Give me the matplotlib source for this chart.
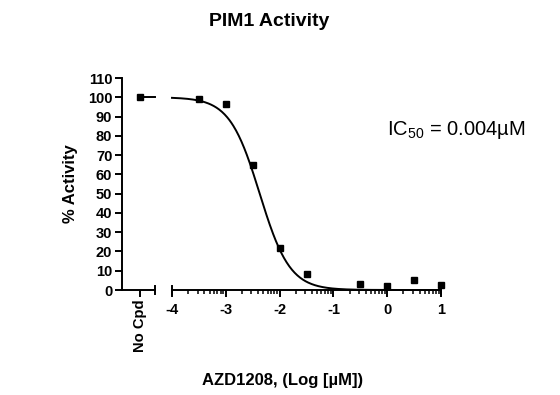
import numpy as np
import matplotlib
matplotlib.use("Agg")
import matplotlib.pyplot as plt

plt.rcParams['font.family'] = ['Liberation Sans', 'DejaVu Sans']
plt.rcParams['mathtext.fontset'] = 'custom'
plt.rcParams['mathtext.rm'] = 'Liberation Sans'
plt.rcParams['mathtext.it'] = 'Liberation Sans:italic'
plt.rcParams['mathtext.bf'] = 'Liberation Sans:bold'

# Data
title = "PIM1 Activity"
xlabel = "AZD1208, (Log [µM])"
ylabel = "% Activity"
nocpd_label = "No Cpd"
nocpd_value = 100.0
log_conc = [-3.5, -3.0, -2.5, -2.0, -1.5, -0.5, 0.0, 0.5, 1.0]
activity = [99.0, 96.5, 65.0, 22.0, 8.3, 3.0, 2.0, 5.0, 2.5]
# Fitted 4PL parameters
fit_top = 100.0
fit_bottom = 0.0
fit_logic50 = -2.37
fit_hill = 1.55
ic50_text = r"IC$_{\mathregular{50}}$ = 0.004µM"
yticks = list(range(0, 111, 10))
xticks = [-4, -3, -2, -1, 0, 1]

fig = plt.figure(figsize=(5.6, 3.95), dpi=100)
W, H = 560, 395
ax1 = fig.add_axes([122 / W, (H - 290) / H, 33 / W, 212 / H])
ax2 = fig.add_axes([172 / W, (H - 290) / H, 269 / W, 212 / H])

lw = 1.4
for ax in (ax1, ax2):
    ax.set_ylim(0, 110)
    for s in ('top', 'right'):
        ax.spines[s].set_visible(False)
    ax.spines['bottom'].set_linewidth(lw)
    ax.spines['left'].set_linewidth(lw)
    ax.patch.set_alpha(0)

# Segment 1: No Cpd
ax1.set_xlim(-1.2, 1.0)
ax1.plot([0], [nocpd_value], 's', color='black', markersize=4.5, clip_on=False)
ax1.plot([0, 1.0], [fit_top, fit_top], color='black', lw=lw, clip_on=False)
ax1.set_xticks([0])
ax1.set_xticklabels([nocpd_label], rotation=90, fontsize=10.6, fontweight='bold')
ax1.set_yticks(yticks)
ax1.set_yticklabels([str(v) for v in yticks], fontsize=10.5, fontweight='bold')
ax1.tick_params(axis='both', length=5, width=lw, pad=2)
ax1.plot([1.0, 1.0], [-2.2, 2.2], color='black', lw=lw, clip_on=False)
ax1.set_ylabel(ylabel, fontsize=12, fontweight='bold', labelpad=7)

# Segment 2: main
ax2.spines['left'].set_visible(False)
ax2.set_xlim(-4, 1)
ax2.set_yticks([])
ax2.set_xticks(xticks)
ax2.set_xticklabels([str(t) for t in xticks], fontsize=10.5, fontweight='bold')
minor = [n + np.log10(k) for n in range(-4, 1) for k in range(2, 10)]
ax2.set_xticks(minor, minor=True)
ax2.tick_params(axis='x', which='major', length=5, width=lw, pad=4)
ax2.tick_params(axis='x', which='minor', length=3, width=1.1)
for xe in (-4, 1):
    ax2.plot([xe, xe], [-2.2, 2.2], color='black', lw=lw, clip_on=False)

xs = np.linspace(-4, 1, 400)
ys = fit_bottom + (fit_top - fit_bottom) / (1 + 10 ** ((xs - fit_logic50) * fit_hill))
ax2.plot(xs, ys, color='black', lw=lw, clip_on=False)
ax2.plot(log_conc, activity, 's', color='black', markersize=4.5, clip_on=False)

fig.text(269 / W, 1 - 22 / H, title, ha='center', va='center', fontsize=14, fontweight='bold')
fig.text(283 / W, 1 - 380 / H, xlabel, ha='center', va='center', fontsize=12, fontweight='bold')
fig.text(387 / W, 1 - 130 / H, ic50_text, ha='left', va='center', fontsize=14.5)

fig.savefig("out.png", dpi=100)
